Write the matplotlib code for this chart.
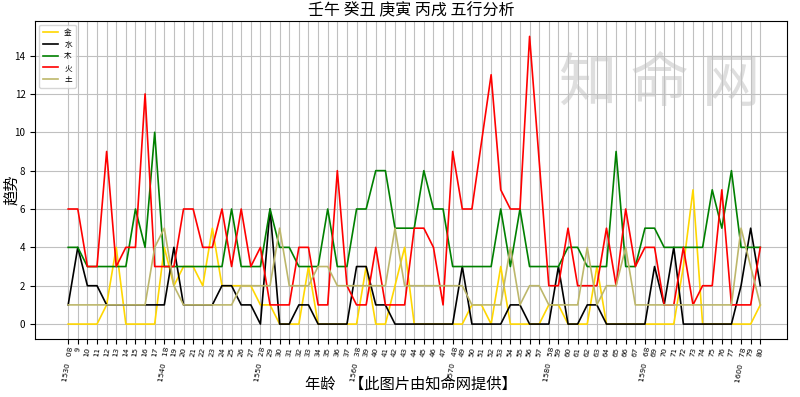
import matplotlib

matplotlib.use("Agg")
import matplotlib.pyplot as plt

plt.rcParams["font.family"] = ["Noto Sans CJK SC", "DejaVu Sans"]

TITLE = "壬午 癸丑 庚寅 丙戌 五行分析"
XLABEL = "年龄    【此图片由知命网提供】"
YLABEL = "趋势"

# ages 8..80, decade years start at 1530 (age 8)
ages = list(range(8, 81))
first_year = 1530

metal = [0, 0, 0, 0, 1, 4, 0, 0, 0, 0, 4, 2, 3, 3, 2, 5, 2, 2, 2, 2,
         1, 1, 0, 0, 0, 3, 0, 0, 0, 0, 0, 3, 0, 0, 2, 4, 0, 0, 0, 0,
         0, 0, 1, 1, 0, 3, 0, 0, 0, 0, 1, 1, 0, 0, 0, 3, 0, 0, 0, 0,
         0, 0, 0, 0, 3, 7, 0, 0, 0, 0, 0, 0, 1]
water = [1, 4, 2, 2, 1, 1, 1, 1, 1, 1, 1, 4, 1, 1, 1, 1, 2, 2, 1, 1,
         0, 6, 0, 0, 1, 1, 0, 0, 0, 0, 3, 3, 1, 1, 0, 0, 0, 0, 0, 0,
         0, 3, 0, 0, 0, 0, 1, 1, 0, 0, 0, 3, 0, 0, 1, 1, 0, 0, 0, 0,
         0, 3, 1, 4, 0, 0, 0, 0, 0, 0, 2, 5, 2]
wood = [4, 4, 3, 3, 3, 3, 3, 6, 4, 10, 3, 3, 3, 3, 3, 3, 3, 6, 3, 3,
        3, 6, 4, 4, 3, 3, 3, 6, 3, 3, 6, 6, 8, 8, 5, 5, 5, 8, 6, 6,
        3, 3, 3, 3, 3, 6, 3, 6, 3, 3, 3, 3, 4, 4, 3, 3, 3, 9, 3, 3,
        5, 5, 4, 4, 4, 4, 4, 7, 5, 8, 4, 4, 4]
fire = [6, 6, 3, 3, 9, 3, 4, 4, 12, 3, 3, 3, 6, 6, 4, 4, 6, 3, 6, 3,
        4, 1, 1, 1, 4, 4, 1, 1, 8, 2, 1, 1, 4, 1, 1, 1, 5, 5, 4, 1,
        9, 6, 6, 9.5, 13, 7, 6, 6, 15, 8.5, 2, 2, 5, 2, 2, 2, 5, 2, 6, 3,
        4, 4, 1, 1, 4, 1, 2, 2, 7, 1, 1, 1, 4]
earth = [1, 1, 1, 1, 1, 1, 1, 1, 1, 4, 5, 2, 1, 1, 1, 1, 1, 1, 2, 2,
         2, 2, 5, 2, 2, 2, 3, 3, 2, 2, 2, 2, 2, 2, 5, 2, 2, 2, 2, 2,
         2, 2, 1, 1, 1, 1, 4, 1, 2, 2, 1, 1, 1, 1, 4, 1, 2, 2, 4, 1,
         1, 1, 1, 1, 1, 1, 1, 1, 1, 1, 5, 3, 1]

series = [
    ("金", metal, "gold"),
    ("水", water, "black"),
    ("木", wood, "green"),
    ("火", fire, "red"),
    ("土", earth, "darkkhaki"),
]

fig = plt.figure(figsize=(8.0, 3.97), dpi=100)
ax = fig.add_axes([0.044, 0.146, 0.940, 0.801])

for name, vals, color in series:
    ax.plot(ages, vals, color=color, lw=1.2, label=name)

# x tick labels: age, with the year prefixed every ten years
labels = []
for a in ages:
    if (a - ages[0]) % 10 == 0:
        labels.append(f"{first_year + a - ages[0]}   {a:02d}")
    else:
        labels.append(str(a))
ax.set_xticks(ages)
ax.set_xticklabels(labels, rotation=80, fontsize=5.3, family="DejaVu Sans")
ax.tick_params(axis="x", pad=2)
ax.set_yticks(range(0, 15, 2))
ax.tick_params(axis="y", labelsize=7)
ax.set_xlim(4.57, 82.8)
ax.set_ylim(-0.78, 15.8)
ax.grid(True, color="#c0c0c0", lw=0.8)

ax.set_title(TITLE, fontsize=11.5, pad=4)
ax.set_xlabel(XLABEL, fontsize=11)
ax.xaxis.set_label_coords(0.5, -0.115)
ax.set_ylabel(YLABEL, fontsize=11)
ax.yaxis.set_label_coords(-0.02, 0.47)

ax.legend(loc="upper left", fontsize=5.5, handlelength=2.0,
          labelspacing=0.5, borderpad=0.5)

# watermark
ax.text(0.83, 0.80, "知 命 网", transform=ax.transAxes, fontsize=42,
        color="#dedede", ha="center", va="center", zorder=0)

fig.savefig("out.png", dpi=100)
plt.close(fig)
